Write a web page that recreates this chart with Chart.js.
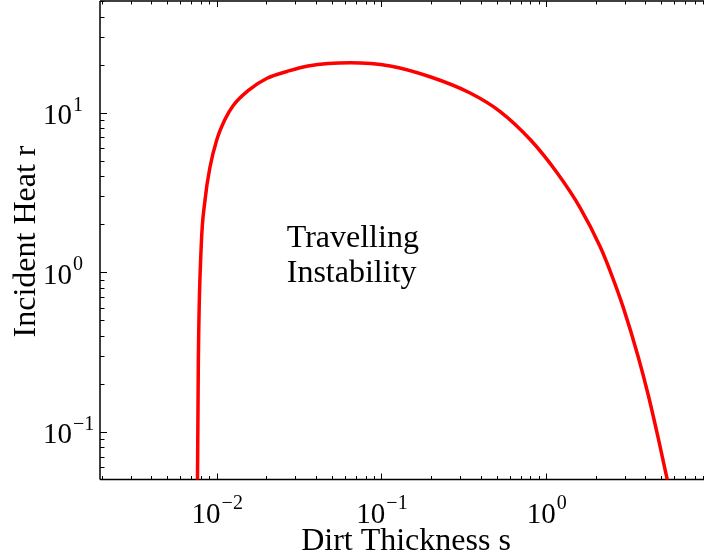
<!DOCTYPE html>
<html>
<head>
<meta charset="utf-8">
<script src="https://cdn.jsdelivr.net/npm/chart.js@4.4.1/dist/chart.umd.min.js"></script>
<style>
  html, body { margin: 0; padding: 0; background: #fff; overflow: hidden; }
  #wrap { width: 712px; height: 558px; }
</style>
</head>
<body>
<div id="wrap"><canvas id="chart" width="712" height="558"></canvas></div>
<script>
// dirt thickness s vs incident heat r
const thickness = [0.00754, 0.00764, 0.00773, 0.00803, 0.00849, 0.00911, 0.0100, 0.01123, 0.01256,
  0.01549, 0.0202, 0.0267, 0.0358, 0.0645, 0.1128, 0.197, 0.345, 0.525, 0.799, 1.16, 1.606,
  2.125, 2.502, 2.943, 3.628, 4.174, 4.799, 5.443, 6.17];
const heat = [0.028, 0.0497, 0.27, 1.38, 2.84, 4.59, 6.75, 9.09, 11.07,
  13.74, 16.43, 18.13, 19.63, 20.58, 19.63, 16.8, 13.29, 10.17, 6.79, 4.22, 2.537,
  1.445, 0.955, 0.597, 0.292, 0.168, 0.0901, 0.0496, 0.028];

const xMajor = [0.01, 0.1, 1];
const xExp = ["\u22122", "\u22121", "0"];
const yMajor = [0.1, 1, 10];
const yExp = ["\u22121", "0", "1"];
const xRange = [0.001956, 10];
const yRange = [0.0504, 50.1];

const xTitle = "Dirt Thickness s";
const yTitle = "Incident Heat r";
const noteLines = ["Travelling", "Instability"];
const notePos = { s: 0.0266, r: 1.445 };

function minorsBetween(lo, hi) {
  const out = [];
  for (let d = Math.floor(Math.log10(lo)); d <= Math.ceil(Math.log10(hi)); d++) {
    for (let m = 2; m <= 9; m++) {
      const v = m * Math.pow(10, d);
      if (v > lo && v < hi) out.push(v);
    }
  }
  return out;
}

const SERIF = '"Liberation Serif", "Times New Roman", serif';

const axesPlugin = {
  id: "matlabAxes",
  beforeDatasetsDraw(chart) {
    const { ctx, chartArea: a, scales: { x, y } } = chart;
    ctx.save();
    ctx.strokeStyle = "#000";
    ctx.lineWidth = 1.5;
    ctx.beginPath();
    ctx.moveTo(a.left, a.top); ctx.lineTo(a.right, a.top);
    ctx.moveTo(a.left, a.top); ctx.lineTo(a.left, a.bottom);
    ctx.moveTo(a.left, a.bottom); ctx.lineTo(a.right, a.bottom);
    ctx.moveTo(a.right, a.top); ctx.lineTo(a.right, a.bottom);
    ctx.stroke();

    ctx.lineWidth = 1;
    ctx.beginPath();
    const xt = (v, len) => {
      const px = Math.round(x.getPixelForValue(v)) + 0.5;
      ctx.moveTo(px, a.bottom); ctx.lineTo(px, a.bottom - len);
      ctx.moveTo(px, a.top); ctx.lineTo(px, a.top + len);
    };
    const yt = (v, len) => {
      const py = Math.round(y.getPixelForValue(v)) + 0.5;
      ctx.moveTo(a.left, py); ctx.lineTo(a.left + len, py);
      ctx.moveTo(a.right, py); ctx.lineTo(a.right - len, py);
    };
    xMajor.forEach(v => xt(v, 6));
    minorsBetween(xRange[0], xRange[1]).forEach(v => xt(v, 3.5));
    yMajor.forEach(v => yt(v, 7));
    minorsBetween(yRange[0], yRange[1]).forEach(v => yt(v, 4.5));
    ctx.stroke();

    ctx.fillStyle = "#000";
    const base = "29px " + SERIF, sup = "20px " + SERIF;
    // x tick labels, whole "10^n" centred on the tick
    ctx.textBaseline = "alphabetic";
    xMajor.forEach((v, i) => {
      ctx.font = base; const w1 = ctx.measureText("10").width;
      ctx.font = sup; const w2 = ctx.measureText(xExp[i]).width;
      const left = x.getPixelForValue(v) - (w1 + w2) / 2;
      ctx.textAlign = "left";
      ctx.font = base; ctx.fillText("10", left, 523);
      ctx.font = sup; ctx.fillText(xExp[i], left + w1 + 1, 509);
    });
    // y tick labels, "10" right edge fixed, exponent after it
    yMajor.forEach((v, i) => {
      const py = y.getPixelForValue(v);
      ctx.font = base; ctx.textAlign = "right"; ctx.fillText("10", 72, py + 11.5);
      ctx.font = sup; ctx.textAlign = "left"; ctx.fillText(yExp[i], 73, py - 2);
    });

    // axis titles
    ctx.font = "32px " + SERIF;
    ctx.textAlign = "center";
    ctx.fillText(xTitle, 406, 550);
    ctx.save();
    ctx.translate(35, 241.5);
    ctx.rotate(-Math.PI / 2);
    ctx.fillText(yTitle, 0, 0);
    ctx.restore();

    // region note
    ctx.textAlign = "left";
    const nx = x.getPixelForValue(notePos.s), ny = y.getPixelForValue(notePos.r);
    noteLines.forEach((t, i) => ctx.fillText(t, nx, ny + i * 35));
    ctx.restore();
  }
};

new Chart(document.getElementById("chart"), {
  type: "line",
  data: {
    datasets: [{
      data: thickness.map((s, i) => ({ x: s, y: heat[i] })),
      borderColor: "#ff0000",
      borderWidth: 3.5,
      pointRadius: 0,
      cubicInterpolationMode: "monotone",
      fill: false,
    }],
  },
  options: {
    responsive: false,
    animation: false,
    events: [],
    layout: { padding: { left: 100, top: 1, right: 1, bottom: 78.5 } },
    scales: {
      x: { type: "logarithmic", min: xRange[0], max: xRange[1], display: false },
      y: { type: "logarithmic", min: yRange[0], max: yRange[1], display: false },
    },
    plugins: { legend: { display: false }, tooltip: { enabled: false } },
  },
  plugins: [axesPlugin],
});
</script>
</body>
</html>
